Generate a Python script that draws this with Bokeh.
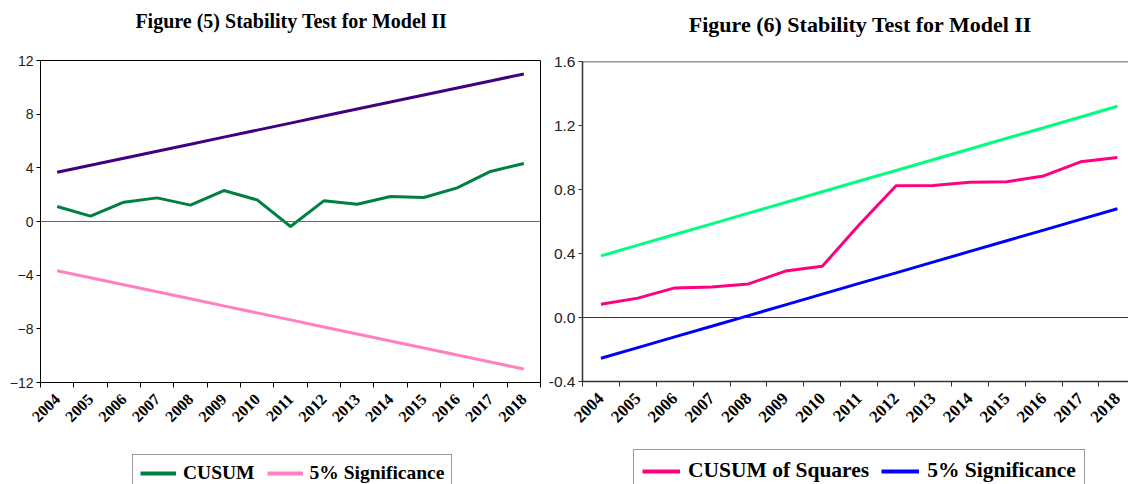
from math import pi
from bokeh.plotting import figure
from bokeh.layouts import row, column
from bokeh.models import Range1d, FixedTicker, Span, Legend, LegendItem, NumeralTickFormatter, Label
from bokeh.embed import file_html
from bokeh.resources import INLINE

years = ["2004", "2005", "2006", "2007", "2008", "2009", "2010", "2011",
         "2012", "2013", "2014", "2015", "2016", "2017", "2018"]

# Figure (5): CUSUM test
cusum = [1.12, 0.40, 1.44, 1.76, 1.22, 2.31, 1.61, -0.37, 1.54, 1.29, 1.86, 1.79, 2.51, 3.73, 4.32]
cusum_upper = [3.67, 4.19, 4.72, 5.24, 5.76, 6.29, 6.81, 7.33, 7.86, 8.38, 8.90, 9.43, 9.95, 10.47, 11.00]
cusum_lower = [-3.67, -4.19, -4.72, -5.24, -5.76, -6.29, -6.81, -7.33, -7.86, -8.38, -8.90, -9.43, -9.95, -10.47, -11.00]

# Figure (6): CUSUM of squares test
cusumsq = [0.083, 0.121, 0.185, 0.190, 0.210, 0.290, 0.320, 0.580, 0.823, 0.825, 0.846, 0.848, 0.885, 0.973, 1.000]
sq_upper = [0.385, 0.452, 0.519, 0.585, 0.652, 0.719, 0.786, 0.853, 0.919, 0.986, 1.053, 1.120, 1.186, 1.253, 1.320]
sq_lower = [-0.255, -0.188, -0.121, -0.055, 0.012, 0.079, 0.146, 0.213, 0.279, 0.346, 0.413, 0.480, 0.546, 0.613, 0.680]

left_ticks = [-12, -8, -4, 0, 4, 8, 12]
right_ticks = [-0.4, 0.0, 0.4, 0.8, 1.2, 1.6]

title_left = "Figure (5) Stability Test for Model II"
title_right = "Figure (6) Stability Test for Model II"

xs = list(range(1, len(years) + 1))
SERIF = "Liberation Serif"
SANS = "Liberation Sans"
TITLE_H = 40
MAIN_H = 400
LEG_H = 44

# page-pixel geometry of the two plot frames (frames in a column get aligned)
W1, W2 = 545, 583
F1 = (40, 540)
F2 = (582, 1128)


def bare(width, height, xr):
    f = figure(width=width, height=height, x_range=Range1d(*xr), y_range=Range1d(0, height),
               output_backend="svg", toolbar_location=None, min_border=0,
               x_axis_location=None, y_axis_location=None)
    f.grid.visible = False
    f.outline_line_color = None
    return f


def title_fig(width, frame, text, cx, cy, size):
    f = bare(width, TITLE_H, frame)
    f.add_layout(Label(x=cx, y=TITLE_H - cy, text=text, text_align="center", text_baseline="middle",
                       text_font=SERIF, text_font_style="bold", text_font_size=size,
                       text_color="black"))
    return f


def style(p, yticks, xlab_size, ylab_size, axis_color, axis_width):
    p.grid.visible = False
    xa = p.xaxis[0]
    xa.ticker = FixedTicker(ticks=xs, minor_ticks=[i + 0.5 for i in range(0, len(years) + 1)])
    xa.major_label_overrides = {x: y for x, y in zip(xs, years)}
    xa.major_tick_out = 0
    xa.major_tick_in = 0
    xa.minor_tick_out = 5
    xa.minor_tick_in = 0
    xa.minor_tick_line_color = axis_color
    xa.major_label_orientation = pi / 4
    xa.major_label_text_font = SERIF
    xa.major_label_text_font_style = "bold"
    xa.major_label_text_font_size = xlab_size
    xa.major_label_text_color = "black"
    xa.major_label_standoff = 9
    xa.axis_line_color = axis_color
    xa.axis_line_width = axis_width
    ya = p.yaxis[0]
    ya.ticker = FixedTicker(ticks=yticks, minor_ticks=[])
    ya.major_tick_out = 4
    ya.major_tick_in = 0
    ya.major_tick_line_color = axis_color
    ya.minor_tick_out = 0
    ya.minor_tick_in = 0
    ya.major_label_text_font = SANS
    ya.major_label_text_font_size = ylab_size
    ya.major_label_text_color = "#222222"
    ya.major_label_standoff = 3
    ya.axis_line_color = axis_color
    ya.axis_line_width = axis_width


def legend_fig(width, entries, loc, font_size, glyph_w, standoff, pad):
    lf = bare(width, LEG_H, (-200, -100))
    # this strip's x range lies far from the data, so the series only feed the legend glyphs
    items = []
    for label, ys, color in entries:
        r = lf.line(xs, ys, line_color=color, line_width=4)
        items.append(LegendItem(label=label, renderers=[r]))
    lf.add_layout(Legend(items=items, orientation="horizontal", location=loc,
                         label_text_font=SERIF, label_text_font_style="bold",
                         label_text_font_size=font_size, label_text_color="black",
                         glyph_width=glyph_w, glyph_height=18, label_standoff=standoff,
                         spacing=12, padding=pad, border_line_color="#333333",
                         border_line_width=1.2, background_fill_color="white", margin=0))
    return lf


# ---------------- Left figure ----------------
t1 = title_fig(W1, F1, title_left, 291, 20, "20px")
p1 = figure(width=W1, height=MAIN_H, x_range=Range1d(0.5, 15.5), y_range=Range1d(-12, 12),
            output_backend="svg", toolbar_location=None,
            min_border_left=F1[0], min_border_right=W1 - F1[1], min_border_top=60 - TITLE_H,
            min_border_bottom=TITLE_H + MAIN_H - 382)
style(p1, left_ticks, "16px", "14px", "black", 1)
p1.outline_line_color = "black"
p1.outline_line_width = 1
p1.add_layout(Span(location=0, dimension="width", line_color="#666666", line_width=1))

p1.line(xs, cusum, line_color="#008040", line_width=3)
p1.line(xs, cusum_upper, line_color="#400080", line_width=3)
p1.line(xs, cusum_lower, line_color="#FF80C0", line_width=3)

leg1 = legend_fig(W1, [("CUSUM", cusum, "#008040"), ("5% Significance", cusum_lower, "#FF80C0")],
                  (132 - F1[0], -8), "19.5px", 36, 7, 7)

# ---------------- Right figure ----------------
t2 = title_fig(W2, F2, title_right, 860, 24, "22px")
p2 = figure(width=W2, height=MAIN_H, x_range=Range1d(0.5, 15.3), y_range=Range1d(-0.4, 1.6),
            output_backend="svg", toolbar_location=None,
            min_border_left=F2[0] - W1, min_border_right=0, min_border_top=61 - TITLE_H,
            min_border_bottom=TITLE_H + MAIN_H - 381)
style(p2, right_ticks, "17px", "15.5px", "#333333", 1.5)
p2.yaxis[0].formatter = NumeralTickFormatter(format="0.0")
p2.outline_line_color = None
p2.add_layout(Span(location=1.6, dimension="width", line_color="#333333", line_width=1.5))
p2.add_layout(Span(location=0, dimension="width", line_color="#333333", line_width=1))

p2.line(xs, cusumsq, line_color="#FF0080", line_width=3)
p2.line(xs, sq_upper, line_color="#00FF80", line_width=3)
p2.line(xs, sq_lower, line_color="#0000FF", line_width=3)

leg2 = legend_fig(W2, [("CUSUM of Squares", cusumsq, "#FF0080"), ("5% Significance", sq_lower, "#0000FF")],
                  (633 - F2[0], -8), "21.5px", 38, 8, 8)

layout = row(column(t1, p1, leg1), column(t2, p2, leg2))
open("out.html", "w").write(file_html(layout, INLINE))
